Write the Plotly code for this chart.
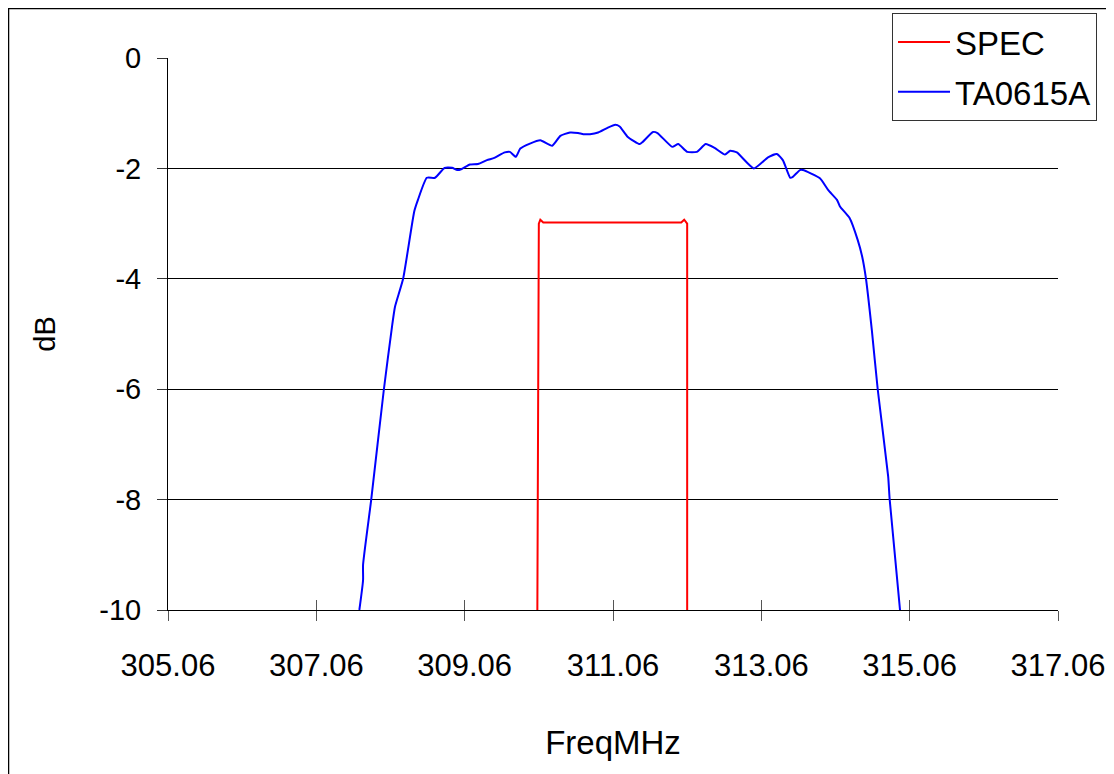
import plotly.graph_objects as go

# ---- data ----
spec_freq = [310.04, 310.06, 310.08, 310.12, 311.98, 312.02, 312.06, 312.06]
spec_db = [-10, -3.0, -2.93, -2.98, -2.98, -2.93, -3.0, -10]

ta_freq = [307.64, 307.69, 307.69, 307.80, 307.97, 308.08, 308.12, 308.23, 308.38, 308.43,
           308.55, 308.66, 308.79, 308.89, 308.96, 309.02, 309.13, 309.24, 309.36, 309.46,
           309.60, 309.67, 309.75, 309.81, 309.94, 310.08, 310.24, 310.35, 310.48, 310.59,
           310.66, 310.75, 310.86, 310.98, 311.09, 311.15, 311.26, 311.42, 311.46, 311.60,
           311.66, 311.86, 311.94, 312.06, 312.19, 312.31, 312.43, 312.57, 312.64, 312.73,
           312.96, 313.15, 313.27, 313.35, 313.45, 313.48, 313.58, 313.62, 313.85, 313.96,
           314.08, 314.12, 314.25, 314.36, 314.42, 314.47, 314.55, 314.63, 314.77, 314.79,
           314.93]
ta_db = [-10, -9.46, -9.18, -8.0, -6.01, -4.87, -4.51, -4.0, -2.78, -2.57,
         -2.17, -2.17, -1.99, -1.99, -2.03, -2.01, -1.93, -1.92, -1.85, -1.81,
         -1.71, -1.70, -1.79, -1.64, -1.55, -1.49, -1.59, -1.41, -1.35, -1.36,
         -1.38, -1.38, -1.35, -1.27, -1.21, -1.24, -1.43, -1.56, -1.52, -1.34,
         -1.36, -1.61, -1.56, -1.70, -1.70, -1.56, -1.63, -1.75, -1.68, -1.71,
         -2.0, -1.80, -1.74, -1.85, -2.17, -2.16, -2.03, -2.03, -2.18, -2.39,
         -2.57, -2.69, -2.90, -3.30, -3.60, -3.99, -4.93, -6.01, -7.58, -7.99,
         -10]

x_ticks = [305.06, 307.06, 309.06, 311.06, 313.06, 315.06, 317.06]
x_tick_labels = ["305.06", "307.06", "309.06", "311.06", "313.06", "315.06", "317.06"]
y_ticks = [0, -2, -4, -6, -8, -10]
y_tick_labels = ["0", "-2", "-4", "-6", "-8", "-10"]

FONT = "Liberation Sans, Arial, sans-serif"

fig = go.Figure()
fig.add_trace(go.Scatter(x=spec_freq, y=spec_db, mode="lines", name="SPEC",
                         legendgroup="a",
                         line=dict(color="#FF0000", width=2)))
fig.add_trace(go.Scatter(x=ta_freq, y=ta_db, mode="lines", name="TA0615A",
                         legendgroup="b",
                         line=dict(color="#0000FF", width=2, shape="spline", smoothing=0.5)))
# invisible helper trace for crossing ticks on the x axis
fig.add_trace(go.Scatter(x=spec_freq, y=spec_db, mode="lines", xaxis="x2",
                         showlegend=False, hoverinfo="skip", opacity=0,
                         line=dict(color="rgba(0,0,0,0)")))

fig.update_layout(
    width=1114, height=774,
    margin=dict(l=160, r=64, t=50, b=172, autoexpand=False),
    paper_bgcolor="white", plot_bgcolor="white",
    font=dict(family=FONT, size=29, color="black"),
    showlegend=True,
    legend=dict(x=0.8135, y=1.0815, xanchor="left", yanchor="top",
                bgcolor="white", bordercolor="#333333", borderwidth=1,
                font=dict(family=FONT, size=33), tracegroupgap=4,
                itemwidth=52),
    xaxis=dict(range=[305.06, 317.06], tickvals=x_ticks, ticktext=x_tick_labels,
               showgrid=False, zeroline=False, showline=True, linecolor="black",
               linewidth=1, ticks="outside", ticklen=10, tickcolor="#555555",
               ticklabelstandoff=18, tickfont=dict(size=31), automargin=False,
               title=dict(text="FreqMHz", standoff=48, font=dict(size=33))),
    xaxis2=dict(range=[305.06, 317.06], overlaying="x", anchor="y", side="bottom",
                tickvals=x_ticks, showticklabels=False, showgrid=False,
                zeroline=False, showline=False, ticks="inside", ticklen=10,
                tickcolor="#555555", automargin=False),
    yaxis=dict(range=[-10, 0], tickvals=y_ticks, ticktext=y_tick_labels,
               showgrid=True, gridcolor="black", gridwidth=1, zeroline=False,
               showline=True, linecolor="black", linewidth=1,
               ticks="outside", ticklen=10, tickcolor="#333333",
               ticklabelstandoff=10, tickfont=dict(size=29), automargin=False,
               title=dict(text="dB", standoff=35, font=dict(size=29))),
    shapes=[dict(type="rect", xref="paper", yref="paper",
                 x0=-0.1792, x1=1.0618, y0=-0.305, y1=1.0897,
                 line=dict(color="black", width=1.5), fillcolor="rgba(0,0,0,0)",
                 layer="below")],
)

fig.write_html("out.html")
